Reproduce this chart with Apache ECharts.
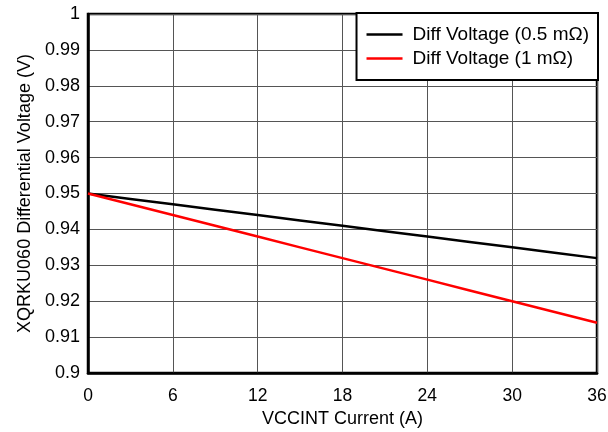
<!DOCTYPE html>
<html>
<head>
<meta charset="utf-8">
<script src="https://cdn.jsdelivr.net/npm/echarts@6/dist/echarts.min.js"></script>
<style>html,body{margin:0;padding:0;background:#fff}#c{width:608px;height:432px}</style>
</head>
<body>
<div id="c"></div>
<script>
var currents = [0, 3, 6, 9, 12, 15, 18, 21, 24, 27, 30, 33, 36];
var diffHalf = [0.950, 0.9485, 0.947, 0.9455, 0.944, 0.9425, 0.941, 0.9395, 0.938, 0.9365, 0.935, 0.9335, 0.932];
var diffOne = [0.950, 0.947, 0.944, 0.941, 0.938, 0.935, 0.932, 0.929, 0.926, 0.923, 0.920, 0.917, 0.914];
var seriesNames = ['Diff Voltage (0.5 m\u03A9)', 'Diff Voltage (1 m\u03A9)'];
var xTitle = 'VCCINT Current (A)';
var yTitle = 'XQRKU060 Differential Voltage (V)';

function pairs(xs, ys) { return xs.map(function (x, i) { return [x, ys[i]]; }); }

var font = 'Arial, "Liberation Sans", sans-serif';
var chart = echarts.init(document.getElementById('c'), null, {renderer: 'canvas'});
chart.setOption({
  animation: false,
  backgroundColor: '#fff',
  grid: {left: 88, right: 11, top: 14, bottom: 59, show: true, borderColor: '#000', borderWidth: 2.5,
    backgroundColor: 'transparent', outerBoundsMode: 'none', containLabel: false},
  legend: {
    orient: 'vertical', right: 10, top: 13,
    data: seriesNames,
    icon: 'rect', itemWidth: 36, itemHeight: 2.5, itemGap: 5,
    padding: [12, 9, 12, 10],
    borderColor: '#000', borderWidth: 2, backgroundColor: '#fff',
    textStyle: {fontFamily: font, fontSize: 19, color: '#000', padding: [0, 0, 0, 5]}
  },
  xAxis: {
    type: 'value', min: 0, max: 36, interval: 6,
    name: xTitle, nameLocation: 'middle', nameGap: 35,
    nameTextStyle: {fontFamily: font, fontSize: 18, color: '#000'},
    axisLine: {show: true, lineStyle: {color: '#000', width: 2.5}},
    axisTick: {show: false},
    axisLabel: {fontFamily: font, fontSize: 17.5, color: '#000', margin: 14},
    splitLine: {show: true, lineStyle: {color: '#555', width: 1}}
  },
  yAxis: {
    type: 'value', min: 0.9, max: 1, interval: 0.01,
    name: yTitle, nameLocation: 'middle', nameGap: 53,
    nameTextStyle: {fontFamily: font, fontSize: 18, color: '#000'},
    axisLine: {show: true, lineStyle: {color: '#000', width: 2.5}},
    axisTick: {show: false},
    axisLabel: {fontFamily: font, fontSize: 18, color: '#000', margin: 8,
      formatter: function (v) { return String(parseFloat(v.toFixed(2))); }},
    splitLine: {show: true, lineStyle: {color: '#555', width: 1}}
  },
  series: [
    {name: seriesNames[0], type: 'line', data: pairs(currents, diffHalf), showSymbol: false, smooth: false,
      lineStyle: {color: '#000', width: 2.5}, itemStyle: {color: '#000'}, z: 3},
    {name: seriesNames[1], type: 'line', data: pairs(currents, diffOne), showSymbol: false, smooth: false,
      lineStyle: {color: '#ff0000', width: 2.5}, itemStyle: {color: '#ff0000'}, z: 4}
  ]
});
</script>
</body>
</html>
